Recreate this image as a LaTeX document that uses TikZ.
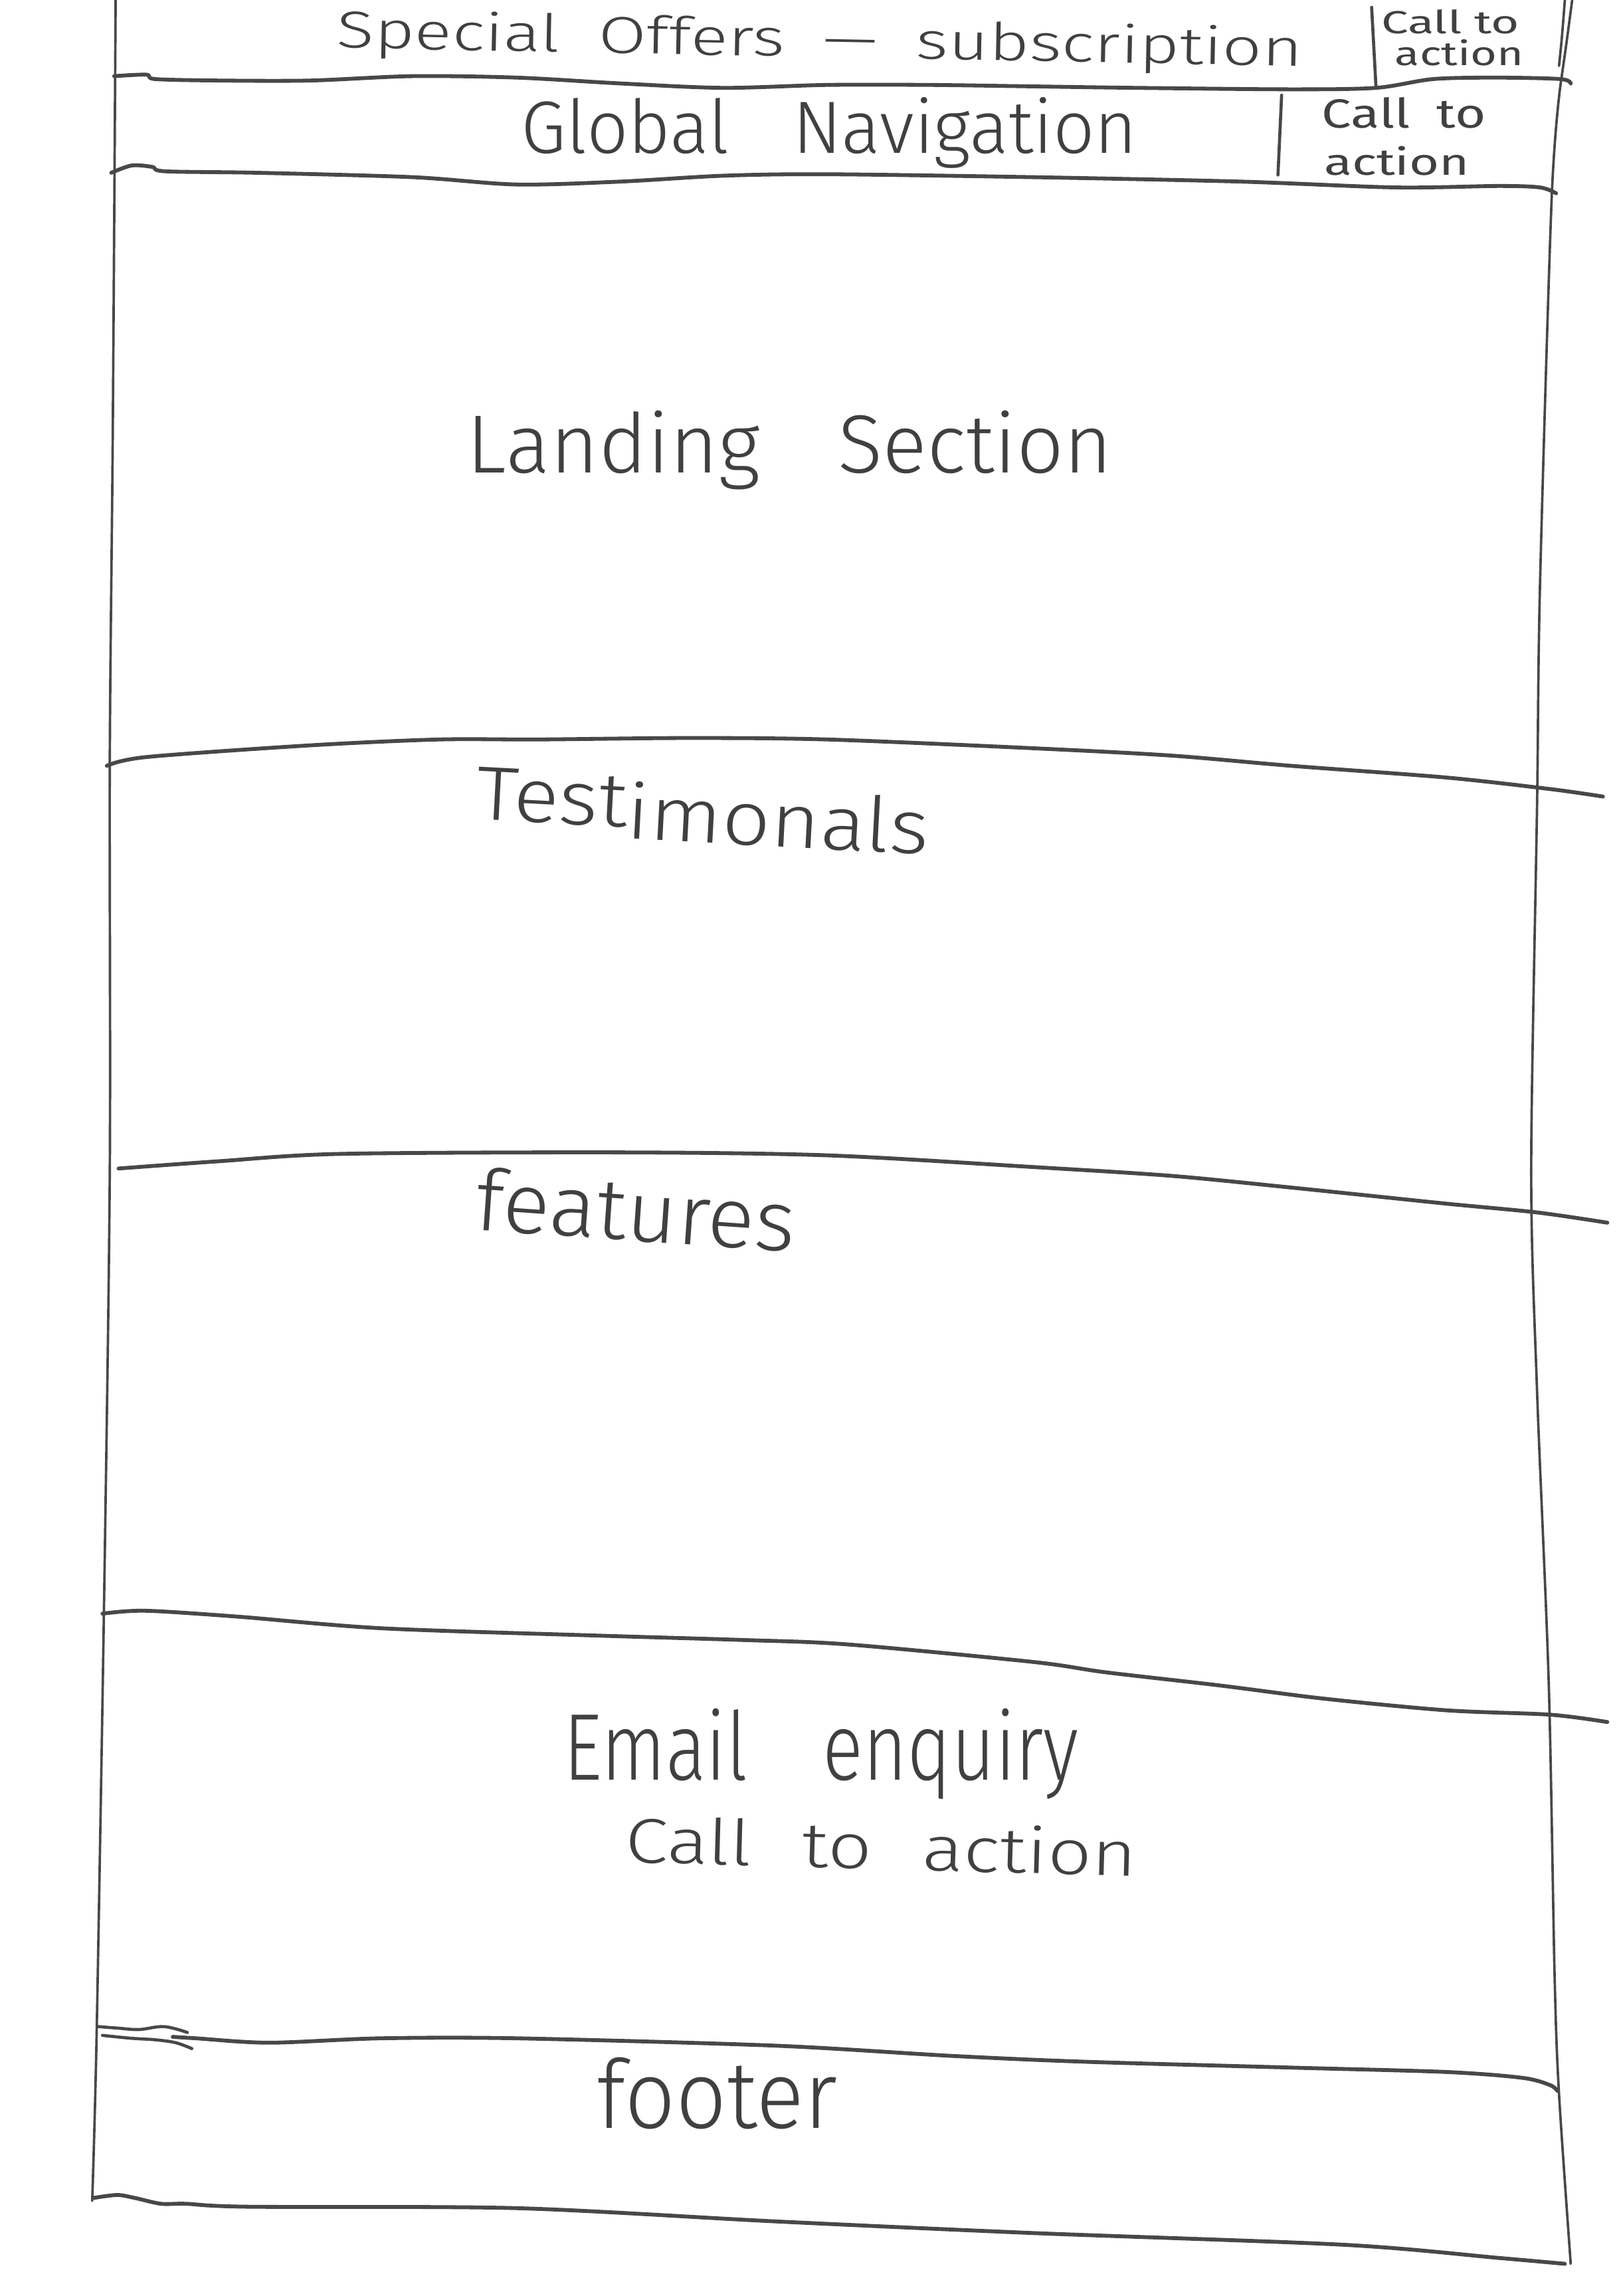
\documentclass[tikz,border=0pt]{standalone}
\usepackage{fontspec}
\usepackage{graphicx}
% a lighter cut when one is installed, otherwise the regular one
\IfFontExistsTF{Fira Sans Light}{\setmainfont{Fira Sans Light}}{\setmainfont{Fira Sans}}
% the small call-to-action notes are written with a heavier stroke
\newfontfamily\ctafont{Fira Sans}
\newlength\U
\setlength\U{0.02cm}
% squeeze a label into a box of w x h drawing units
\newcommand\fitto[3]{\resizebox*{#1\U}{#2\U}{#3}}
\definecolor{ink}{HTML}{484848}
\definecolor{pen}{HTML}{404040}

\begin{document}
\begin{tikzpicture}[x=0.02cm,y=-0.02cm,
  border/.style={draw=ink, line width=0.95pt, line cap=round, line join=round},
  divider/.style={draw=ink, line width=1.5pt, line cap=round, line join=round},
  label/.style={inner sep=0pt, text=pen},
  ctalabel/.style={label, font=\ctafont},
]
\useasboundingbox[fill=white] (0,0) rectangle (1107,1568);

% ---- page frame: left and right sides ----
\draw[border] plot[smooth, tension=0.5] coordinates {(79,0) (77,300) (75,520) (75,800) (71,1100) (66,1390) (63,1503)};
\draw[border] plot[smooth, tension=0.5] coordinates {(1074,0) (1070,30) (1066,58)};
\draw[border] plot[smooth, tension=0.5] coordinates {(1069,0) (1067,25) (1065,45)};
\draw[border] plot[smooth, tension=0.5] coordinates {(1066,58) (1060,135) (1052,400) (1050,550) (1046,800) (1050,950) (1058,1150) (1062,1350) (1065,1430) (1073,1546)};

% ---- call-to-action separators in the two top bars ----
\draw[border, line width=1.2pt] (937,5) -- (940,60);
\draw[border, line width=1.2pt] (875.5,65) -- (873,119.5);

% ---- section dividers ----
\draw[divider] plot[smooth, tension=0.5] coordinates {(78,52) (100,51) (106,54) (150,55) (212,55) (282,52) (353,53) (424,57) (494,60) (565,58) (635,58) (706,59) (776,60) (882,61) (940,60) (979,54) (1023,53) (1066,54) (1073,57)};
\draw[divider] plot[smooth, tension=0.5] coordinates {(76,118) (90,113) (104,114) (113,117) (176,118) (282,121) (353,126) (424,124) (494,120) (565,119) (706,121) (847,124) (953,128) (1024,127) (1052,128) (1063,132)};
\draw[divider] plot[smooth, tension=0.5] coordinates {(73,523) (100,517) (212,509) (300,505) (367,505) (470,504) (565,505) (706,511) (800,516) (882,523) (988,531) (1060,539) (1095,544)};
\draw[divider] plot[smooth, tension=0.5] coordinates {(81,798) (150,793) (233,788) (424,787) (565,789) (706,797) (800,803) (882,811) (988,822) (1050,828) (1098,835)};
\draw[divider] plot[smooth, tension=0.5] coordinates {(70,1102) (99,1100) (162,1104) (261,1112) (409,1117) (508,1120) (579,1123) (706,1135) (755,1142) (833,1151) (904,1160) (988,1168) (1059,1171) (1098,1176)};
% footer divider with its scribbled start
\draw[divider, line width=1.2pt] plot[smooth, tension=0.6] coordinates {(67,1384) (80,1385) (95,1386) (112,1384) (128,1388)};
\draw[divider, line width=1.2pt] plot[smooth, tension=0.6] coordinates {(70,1390) (90,1392) (106,1393) (120,1395) (131,1399)};
\draw[divider] plot[smooth, tension=0.5] coordinates {(118,1391) (134,1392) (184,1395) (260,1392) (353,1392) (529,1397) (650,1404) (741,1408) (882,1412) (988,1415) (1040,1419) (1059,1424) (1064,1428)};
\draw[divider] plot[smooth, tension=0.5] coordinates {(64,1501) (80,1499) (92,1501) (110,1505) (127,1505) (169,1507) (353,1508) (529,1517) (706,1525) (918,1533) (1024,1542) (1069,1546)};

% ---- labels ----
\node[label, rotate=-1.1] (offers) at (560,29.2) {\fitto{660}{34}{\spaceskip=0.55em\relax Special Offers \textemdash{} subscription}};
\node[ctalabel] (ctatopa) at (990.8,15.1) {\fitto{94.5}{16.6}{Call to}};
\node[ctalabel] (ctatopb) at (997,36) {\fitto{88}{18}{action}};

\node[label] (nav) at (566.5,90.75) {\fitto{421}{48.5}{\spaceskip=0.87em\relax Global Navigation}};
\node[ctalabel] (ctanava) at (959,77.1) {\fitto{112}{21.2}{\spaceskip=0.5em\relax Call to}};
\node[ctalabel] (ctanavb) at (954.25,110) {\fitto{99.5}{20}{action}};

\node[label] (landing) at (539.5,307.5) {\fitto{441}{54}{\spaceskip=0.94em\relax Landing Section}};
\node[label, rotate=-3] (testim) at (480,554) {\fitto{310}{44}{Test\raisebox{-0.15em}{imonals}}};
\node[label, rotate=-4] (features) at (434.5,826) {\fitto{219}{44}{features}};
\node[label] (email) at (561,1198) {\fitto{352}{62}{\spaceskip=1em\relax Email enquiry}};
\node[label, rotate=-1.6] (emailcta) at (602,1260.5) {\fitto{350}{33}{\spaceskip=0.65em\relax Call to action}};
\node[label] (footer) at (490,1429.5) {\fitto{164}{49}{footer}};
\end{tikzpicture}
\end{document}
